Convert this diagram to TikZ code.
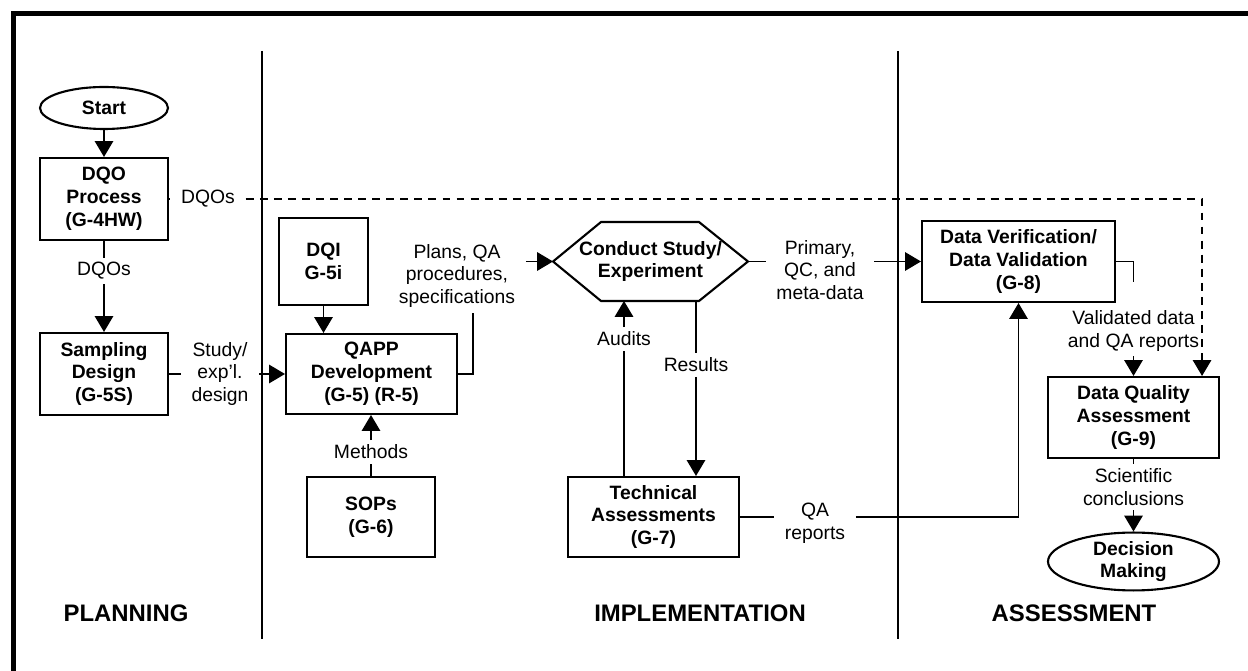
\documentclass[tikz,border=0pt]{standalone}
\usepackage{fontspec}
\setmainfont{Liberation Sans}
\usetikzlibrary{shapes.geometric, arrows.meta}

\begin{document}
\begin{tikzpicture}[
    x=0.02cm, y=-0.02cm,
    box/.style={draw, line width=1.2pt, align=center, inner sep=0pt,
      font=\bfseries\fontsize{11}{13}\selectfont},
    oval/.style={box, ellipse},
    lbl/.style={align=center, inner xsep=6pt, inner ysep=2.5pt,
      font=\fontsize{11}{13}\selectfont},
    stage/.style={font=\bfseries\fontsize{13.6}{16}\selectfont},
    link/.style={draw, line width=0.7pt},
    arrow/.style={link, -{Triangle[length=9pt, width=10.5pt]}},
    dashline/.style={link, dash pattern=on 4.5pt off 3.5pt}
  ]

  \useasboundingbox (0,0) rectangle (1248,671);

  % frame and columns
  \draw[line width=2.3pt] (13.5,671) -- (13.5,13.5) -- (1248,13.5);
  \draw[line width=0.8pt] (262,51) -- (262,639);
  \draw[line width=0.8pt] (898,51) -- (898,639);

  \node (start) [oval, minimum width=2.56cm, minimum height=0.84cm] at (104,108) {Start};
  \node (dqo) [box, minimum width=2.56cm, minimum height=1.64cm] at (104,199) {DQO\\Process\\(G-4HW)};
  \node (samp) [box, minimum width=2.56cm, minimum height=1.64cm] at (104,374) {Sampling\\Design\\(G-5S)};
  \node (dqi) [box, minimum width=1.78cm, minimum height=1.74cm] at (323.5,261.5) {DQI\\G-5i};
  \node (qapp) [box, minimum width=3.42cm, minimum height=1.6cm] at (371.5,374) {QAPP\\Development\\(G-5) (R-5)};
  \node (sops) [box, minimum width=2.56cm, minimum height=1.6cm] at (371,517) {SOPs\\(G-6)};
  \node (exp) [align=center, outer sep=0pt, minimum width=3.9cm, minimum height=1.58cm,
    font=\bfseries\fontsize{11}{13}\selectfont] at (650.5,261.5) {Conduct Study/\\Experiment};
  \node (ta) [box, minimum width=3.42cm, minimum height=1.6cm] at (653.5,517) {Technical\\Assessments\\(G-7)};
  \node (dv) [box, minimum width=3.86cm, minimum height=1.62cm] at (1018.5,261.5) {Data Verification/\\Data Validation\\(G-8)};
  \node (dqa) [box, minimum width=3.42cm, minimum height=1.62cm] at (1133.5,417.5) {Data Quality\\Assessment\\(G-9)};
  \node (dm) [oval, minimum width=3.42cm, minimum height=1.14cm] at (1133.5,561.5) {Decision\\Making};

  \draw[line width=1.2pt] (exp.west) -- ([xshift=0.96cm]exp.north west) -- ([xshift=-0.98cm]exp.north east)
    -- (exp.east) -- ([xshift=-0.98cm]exp.south east) -- ([xshift=0.96cm]exp.south west) -- cycle;

  % labels
  \node (dqos1) [lbl] at (208,199) {DQOs};
  \node (dqos2) [lbl] at (104,271) {DQOs};
  \node (study) [lbl] at (220,374) {Study/\\exp'l.\\design};
  \node (plans) [lbl] at (457,276) {Plans, QA\\procedures,\\specifications};
  \node (methods) [lbl] at (371,452) {Methods};
  \node (audits) [lbl] at (624,339) {Audits};
  \node (results) [lbl] at (696,365) {Results};
  \node (primary) [lbl] at (820,270) {Primary,\\QC, and\\meta-data};
  \node (qarep) [lbl] at (815,523) {QA\\reports};
  \node (valid) [lbl] at (1133.5,331) {Validated data\\and QA reports};
  \node (sci) [lbl] at (1133.5,487) {Scientific\\conclusions};

  \node (planning) [stage] at (126,613) {PLANNING};
  \node (implement) [stage] at (700,613) {IMPLEMENTATION};
  \node (assess) [stage] at (1074,613) {ASSESSMENT};

  % Draw arrows
  \draw[arrow] (start) -- (dqo);
  \draw[link] (dqo) -- (dqos2);
  \draw[arrow] (dqos2) -- (samp);
  \draw[dashline] (dqo.east) -- (dqos1);
  \draw[dashline, arrow] (dqos1) -| ([xshift=-0.36cm]dqa.north east);
  \draw[link] (samp) -- (study);
  \draw[arrow] (study) -- (qapp);
  \draw[arrow] (dqi) -- (dqi |- qapp.north);
  \draw[link] (sops) -- (methods);
  \draw[arrow] (methods) -- (methods |- qapp.south);
  \draw[link] (qapp.east) -| ([xshift=0.32cm]plans.south);
  \draw[arrow] (plans.east |- exp.west) -- (exp.west);
  \draw[link] (audits |- ta.north) -- (audits);
  \draw[arrow] (audits) -- (audits |- exp.south);
  \draw[link] (results |- exp.south) -- (results);
  \draw[arrow] (results) -- (results |- ta.north);
  \draw[link] (exp.east) -- (primary.west |- exp.east);
  \draw[arrow] (primary.east |- exp.east) -- (dv.west);
  \draw[link] (ta.east) -- (qarep.west |- ta.east);
  \draw[arrow] (qarep.east |- ta.east) -| (dv.south);
  \draw[link] (dv.east) -| ([yshift=0.48cm]valid.north);
  \draw[arrow] (valid) -- (valid |- dqa.north);
  \draw[link] (dqa) -- (sci);
  \draw[arrow] (sci) -- (dm);

\end{tikzpicture}
\end{document}
